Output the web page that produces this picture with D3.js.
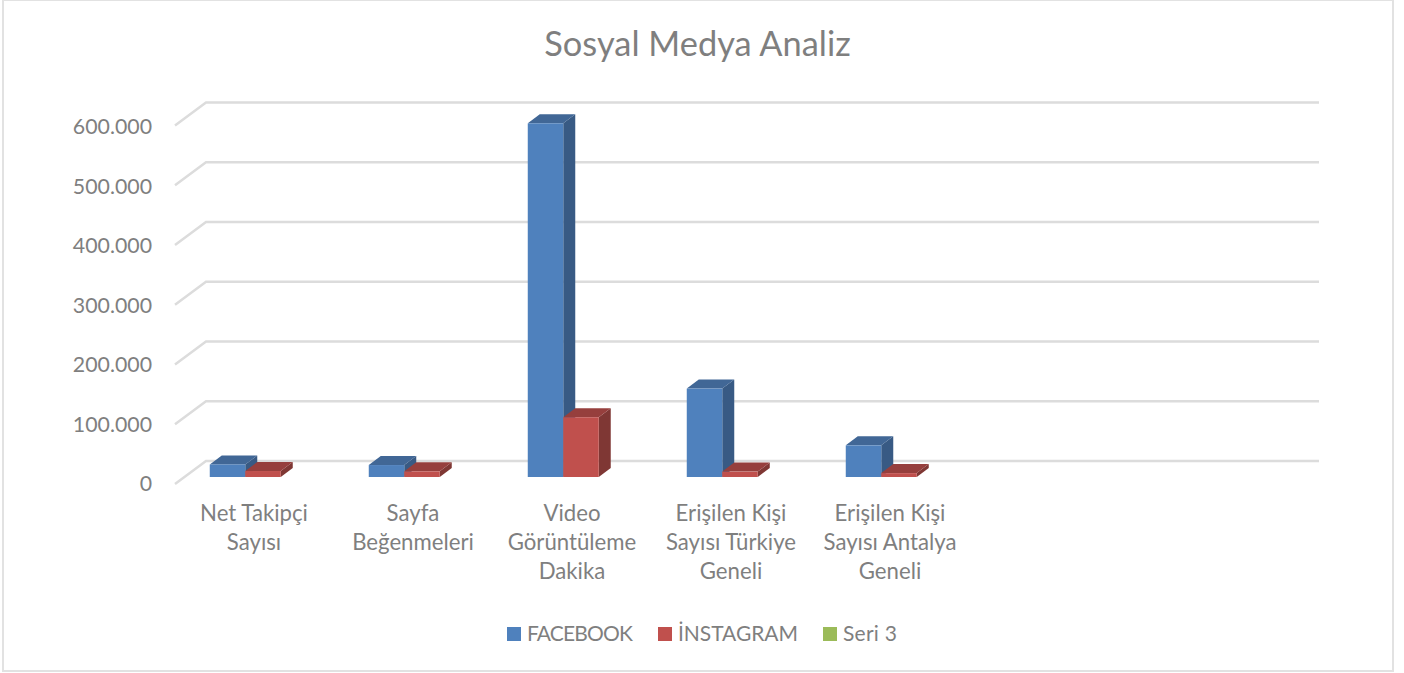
<!DOCTYPE html>
<html>
<head>
<meta charset="utf-8">
<title>Sosyal Medya Analiz</title>
<script src="https://cdn.jsdelivr.net/npm/d3@7"></script>
<style>
  html, body { margin: 0; padding: 0; background: #fff; }
  text { font-family: Lato, sans-serif; fill: #7f7f7f; }
</style>
</head>
<body>
<script>
var categories = ["Net Takipçi Sayısı", "Sayfa Beğenmeleri", "Video Görüntüleme Dakika",
  "Erişilen Kişi Sayısı Türkiye Geneli", "Erişilen Kişi Sayısı Antalya Geneli", "", " "];
var labelLines = [["Net Takipçi", "Sayısı"], ["Sayfa", "Beğenmeleri"], ["Video", "Görüntüleme", "Dakika"],
  ["Erişilen Kişi", "Sayısı Türkiye", "Geneli"], ["Erişilen Kişi", "Sayısı Antalya", "Geneli"], [], []];
var seriesNames = ["FACEBOOK", "İNSTAGRAM", "Seri 3"];
var facebook = [21000, 20000, 592000, 148000, 53000, null, null];
var instagram = [10000, 9500, 100000, 9000, 6500, null, null];
var seri3 = [null, null, null, null, null, null, null];
var tickValues = [0, 100000, 200000, 300000, 400000, 500000, 600000];

var w = 1404, h = 673;
var depthX = 31, depthY = 23;   // wall depth
var barDX = 12, barDY = 9;      // bar depth
var faceColors = ["#4f81bd", "#c0504d", "#9bbb59"];
var topColors = ["#416796", "#963f3d", "#7c9647"];
var sideColors = ["#385a84", "#7f3734", "#6a8040"];

var svg = d3.select("body").append("svg").attr("width", w).attr("height", h).style("display", "block");

// outer frame
svg.append("rect").attr("x", 3).attr("y", 0).attr("width", 1390).attr("height", 671)
  .attr("fill", "#fff").attr("stroke", "#e2e2e2").attr("stroke-width", 2);

svg.append("text").text("Sosyal Medya Analiz")
  .attr("x", 697.5).attr("y", 56).attr("text-anchor", "middle").attr("font-size", 34.4);

var x = d3.scaleBand().domain(categories).range([175, 1288]);
var y = d3.scaleLinear().domain([0, 600000]).range([484, 125.5]);
var xs = d3.scaleBand().domain(seriesNames).range([0, x.bandwidth()]).paddingOuter(0.74).paddingInner(0);

// gridlines on the floor and back wall
svg.selectAll("polyline.grid").data(tickValues).enter().append("polyline")
  .attr("class", "grid")
  .attr("fill", "none").attr("stroke", "#dcdcdc").attr("stroke-width", 2.5)
  .attr("points", function(d) {
    return [[175, y(d)], [175 + depthX, y(d) - depthY], [1288 + depthX, y(d) - depthY]].join(" ");
  });

// y axis labels
var nf = d3.formatLocale({ decimal: ",", thousands: ".", grouping: [3], currency: ["", ""] }).format(",d");
var yLabels = y.copy().range([484, 127]);
var yAxis = svg.append("g").attr("transform", "translate(174,0)")
  .call(d3.axisLeft(yLabels).tickValues(tickValues).tickFormat(nf).tickSize(0).tickPadding(22));
yAxis.select(".domain").remove();
yAxis.selectAll("text").attr("font-size", 21.3).style("font-family", "Lato, sans-serif").style("fill", "#7f7f7f");

// bars: front plane sits a bit behind the front of the floor
var planeX = (depthX - barDX) / 2 - 1, planeY = (depthY - barDY) / 2;
var allSeries = [facebook, instagram, seri3];
allSeries.forEach(function(values, s) {
  var g = svg.append("g").attr("transform", "translate(" + planeX + "," + (-planeY) + ")");
  var bars = categories.map(function(c, i) { return { c: c, v: values[i] }; })
    .filter(function(d) { return d.v !== null; });
  var bw = xs.bandwidth();
  function bx(d) { return x(d.c) + xs(seriesNames[s]); }

  g.selectAll("path.side").data(bars).enter().append("path")
    .attr("fill", sideColors[s])
    .attr("d", function(d) {
      var r = bx(d) + bw;
      return "M" + r + "," + y(0) + "L" + (r + barDX) + "," + (y(0) - barDY) +
        "L" + (r + barDX) + "," + (y(d.v) - barDY) + "L" + r + "," + y(d.v) + "Z";
    });
  g.selectAll("path.top").data(bars).enter().append("path")
    .attr("fill", topColors[s])
    .attr("d", function(d) {
      var l = bx(d), t = y(d.v);
      return "M" + l + "," + t + "L" + (l + barDX) + "," + (t - barDY) +
        "L" + (l + bw + barDX) + "," + (t - barDY) + "L" + (l + bw) + "," + t + "Z";
    });
  g.selectAll("rect.face").data(bars).enter().append("rect")
    .attr("fill", faceColors[s])
    .attr("x", bx).attr("y", function(d) { return y(d.v); })
    .attr("width", bw).attr("height", function(d) { return y(0) - y(d.v); });
});

// category labels
var lab = svg.selectAll("text.cat").data(categories).enter().append("text")
  .attr("class", "cat").attr("text-anchor", "middle").attr("font-size", 22.2);
lab.each(function(c, i) {
  d3.select(this).selectAll("tspan").data(labelLines[i]).enter().append("tspan")
    .attr("x", x(c) + x.bandwidth() / 2 - 0.5)
    .attr("y", function(d, j) { return 521 + j * 29; })
    .text(function(d) { return d; });
});

// legend
var legendX = [507, 658, 823];
var legendTextW = [106, 120, 54];
var legend = svg.selectAll("g.leg").data(seriesNames).enter().append("g")
  .attr("class", "leg")
  .attr("transform", function(d, i) { return "translate(" + legendX[i] + ",627)"; });
legend.append("rect").attr("width", 14).attr("height", 14)
  .attr("fill", function(d, i) { return faceColors[i]; });
legend.append("text").attr("x", 20).attr("y", 13.5).attr("font-size", 21)
  .attr("textLength", function(d, i) { return legendTextW[i]; })
  .text(function(d) { return d; });
</script>
</body>
</html>
